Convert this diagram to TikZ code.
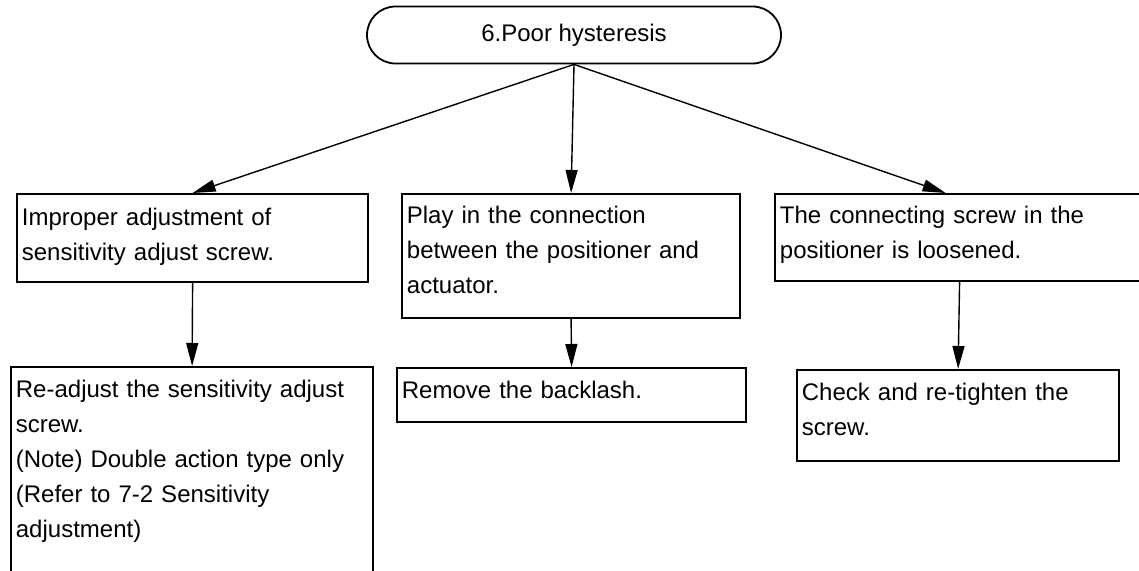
\documentclass[tikz,border=0pt]{standalone}
\usepackage{fontspec}
\setmainfont{Liberation Sans}
\usetikzlibrary{arrows.meta,shapes.misc}
\begin{document}
\begin{tikzpicture}[x=0.5pt,y=-0.5pt,
  cbox/.style={draw,line width=0.9pt,anchor=north west,align=left,inner xsep=2.5pt,inner ysep=0pt,font=\fontsize{12}{17.5}\selectfont},
  arr/.style={-{Triangle[length=11.5pt,width=6pt]},line width=0.7pt}]
\useasboundingbox (0,0) rectangle (1139,571);
\node[draw,line width=0.9pt,rounded rectangle,minimum width=207pt,minimum height=28.5pt,inner sep=0pt,font=\fontsize{12}{14}\selectfont] (top) at (574,35) {6.Poor hysteresis};
% causes
\node[cbox,text width=170.7pt,text height=16pt,text depth=28pt] (cause1) at (16,193) {Improper adjustment of\\sensitivity adjust screw.};
\node[cbox,text width=164.2pt,text height=15pt,text depth=47pt] (cause2) at (401,193) {Play in the connection\\between the positioner and\\actuator.};
\node[cbox,text width=179.7pt,text height=15pt,text depth=28.5pt] (cause3) at (774,193) {The connecting screw in the\\positioner is loosened.};
% actions
\node[cbox,text width=176.2pt,text height=15.5pt,text depth=110pt] (act1) at (10,366) {Re-adjust the sensitivity adjust\\screw.\\(Note) Double action type only\\(Refer to 7-2 Sensitivity\\adjustment)};
\node[cbox,text width=169.7pt,text height=15.5pt,text depth=11.5pt] (act2) at (396,367) {Remove the backlash.};
\node[cbox,text width=156.2pt,text height=15.5pt,text depth=30pt] (act3) at (796,369) {Check and re-tighten the\\screw.};
\draw[arr] (top.south) -- (cause1.north);
\draw[arr] (top.south) -- (cause2.north);
\draw[arr] (top.south) -- ([xshift=-7pt]cause3.north);
\draw[arr] (cause1.south) -- (act1.north);
\draw[arr] (cause2.south) -- (act2.north);
\draw[arr] (cause3.south) -- (act3.north);
\end{tikzpicture}
\end{document}
